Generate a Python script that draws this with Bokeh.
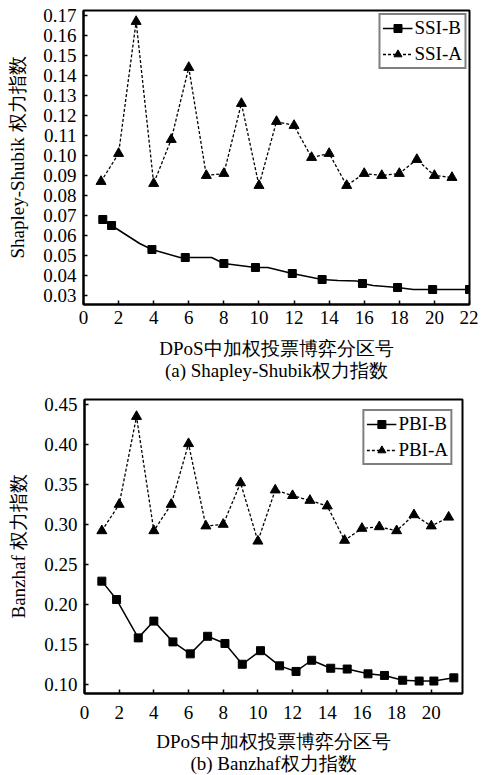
from bokeh.plotting import figure
from bokeh.models import Range1d, SingleIntervalTicker, NumeralTickFormatter, Title
from bokeh.layouts import column
from bokeh.embed import file_html
from bokeh.resources import INLINE

# ---------------- data (a) Shapley-Shubik ----------------
partition = list(range(1, 22))
ssi_a = [0.087, 0.101, 0.167, 0.086, 0.108, 0.144, 0.090, 0.091, 0.126, 0.085, 0.117,
         0.115, 0.099, 0.101, 0.085, 0.091, 0.090, 0.091, 0.098, 0.090, 0.089]
ssi_b_x = [1.1, 1.6, 3.9, 5.8, 8.0, 9.8, 11.9, 13.6, 15.9, 17.9, 19.9, 22.0]
ssi_b = [0.068, 0.065, 0.053, 0.049, 0.046, 0.044, 0.041, 0.038, 0.036, 0.034, 0.033, 0.033]
ssi_b_curve_x = [1.1, 1.6, 3.2, 3.9, 5.5, 5.8, 7.3, 8.0, 9.8, 10.5, 11.9, 13.6, 14.5,
                 15.6, 15.9, 16.5, 17.9, 18.8, 19.9, 22.0]
ssi_b_curve = [0.068, 0.065, 0.056, 0.053, 0.049, 0.049, 0.049, 0.046, 0.044, 0.044, 0.041,
               0.038, 0.0375, 0.0372, 0.036, 0.035, 0.034, 0.033, 0.033, 0.033]

# ---------------- data (b) Banzhaf ----------------
pbi_a = [0.292, 0.325, 0.435, 0.292, 0.325, 0.401, 0.298, 0.300, 0.352, 0.279, 0.343,
         0.336, 0.330, 0.323, 0.280, 0.295, 0.297, 0.292, 0.312, 0.298, 0.309]
pbi_b_x = [1.0, 1.85, 3.1, 4.0, 5.1, 6.1, 7.1, 8.1, 9.1, 10.15, 11.25, 12.2, 13.1, 14.2,
           15.15, 16.35, 17.3, 18.35, 19.3, 20.15, 21.3]
pbi_b = [0.229, 0.206, 0.158, 0.179, 0.153, 0.138, 0.160, 0.151, 0.125, 0.142, 0.123,
         0.116, 0.130, 0.120, 0.119, 0.113, 0.111, 0.105, 0.104, 0.104, 0.108]

x_label = "DPoS中加权投票博弈分区号"
FONT = "Liberation Serif"


def make_fig(height, top, bottom, left, right, xmax, y0, y1, yint, ylabel, caption,
             tick_standoff, label_standoff):
    p = figure(width=478, height=height, output_backend="svg", toolbar_location=None,
               x_range=Range1d(0, xmax), y_range=Range1d(y0, y1),
               min_border_top=top, min_border_bottom=bottom,
               min_border_left=left, min_border_right=right)
    p.frame_align = False
    p.grid.visible = False
    p.outline_line_color = "black"
    p.outline_line_width = 2
    p.xaxis.ticker = SingleIntervalTicker(interval=2)
    p.yaxis.ticker = SingleIntervalTicker(interval=yint)
    p.yaxis.formatter = NumeralTickFormatter(format="0.00")
    for ax in (p.xaxis[0], p.yaxis[0]):
        ax.axis_line_width = 2
        ax.major_tick_in = 4
        ax.major_tick_out = 0
        ax.major_tick_line_width = 1.5
        ax.minor_tick_line_color = None
        ax.major_label_text_font = FONT
        ax.major_label_text_font_size = "19px"
        ax.major_label_text_color = "black"
        ax.axis_label_text_font = FONT
        ax.axis_label_text_font_size = "19px"
        ax.axis_label_text_font_style = "normal"
        ax.axis_label_text_color = "black"
    p.xaxis.major_label_standoff = tick_standoff
    p.yaxis.major_label_standoff = 3
    p.xaxis.axis_label = x_label
    p.xaxis.axis_label_standoff = label_standoff
    p.yaxis.axis_label = ylabel
    p.yaxis.axis_label_standoff = 12
    t = Title(text=caption, align="center", text_font=FONT, text_font_size="19px",
              text_font_style="normal", text_color="black", standoff=-8)
    p.add_layout(t, "below")
    return p


p1 = make_fig(388, 10, 84, 83, 9, 22, 0.0255, 0.1725, 0.01,
              "Shapley-Shubik 权力指数", "(a) Shapley-Shubik权力指数", 2, 11)
p1.line(ssi_b_curve_x, ssi_b_curve, line_color="black", line_width=1.5, legend_label="SSI-B")
p1.scatter(ssi_b_x, ssi_b, marker="square", size=8, color="black", legend_label="SSI-B")
p1.line(partition, ssi_a, line_color="black", line_width=1.3, line_dash="3 2", legend_label="SSI-A")
p1.scatter(partition, ssi_a, marker="triangle", size=10, color="black", legend_label="SSI-A")

p2 = make_fig(387, 11, 82, 84, 16, 21.8, 0.0884, 0.4563, 0.05,
              "Banzhaf 权力指数", "(b) Banzhaf权力指数", 8, 9)
p2.line(pbi_b_x, pbi_b, line_color="black", line_width=1.5, legend_label="PBI-B")
p2.scatter(pbi_b_x, pbi_b, marker="square", size=8, color="black", legend_label="PBI-B")
p2.line(partition, pbi_a, line_color="black", line_width=1.3, line_dash="3 2", legend_label="PBI-A")
p2.scatter(partition, pbi_a, marker="triangle", size=10, color="black", legend_label="PBI-A")

for p, m in ((p1, 3), (p2, 10)):
    lg = p.legend[0]
    lg.location = "top_right"
    lg.margin = m
    lg.border_line_color = "black"
    lg.border_line_width = 2
    lg.background_fill_alpha = 1
    lg.label_text_font = FONT
    lg.label_text_font_size = "19px"
    lg.label_text_color = "black"
    lg.glyph_width = 30
    lg.glyph_height = 20
    lg.label_height = 20
    lg.label_standoff = 2
    lg.spacing = 4
    lg.padding = 2

layout = column(p1, p2, spacing=0)
open("out.html", "w").write(file_html(layout, INLINE))
